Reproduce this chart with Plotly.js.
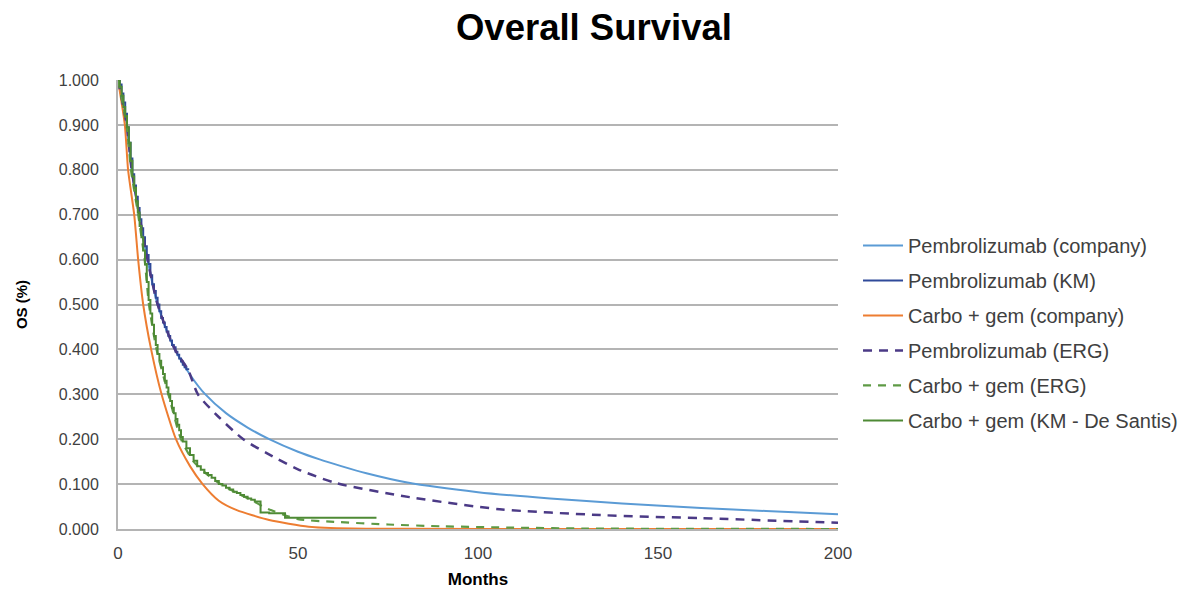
<!DOCTYPE html>
<html>
<head>
<meta charset="utf-8">
<script src="https://cdn.plot.ly/plotly-3.0.1.min.js"></script>
<style>html,body{margin:0;padding:0;background:#fff;}#chart{width:1195px;height:597px;}</style>
</head>
<body>
<div id="chart"></div>
<script>
// Pembrolizumab (company) - smooth fitted curve
const pembroCompanyT = [0, 2.4, 3.8, 5.9, 8.2, 11.0, 15.8, 20.5, 24, 30, 36, 42, 50, 56, 62, 69, 80, 100, 120, 140, 162, 180, 200];
const pembroCompanyS = [1.0, 0.9, 0.8, 0.7, 0.6, 0.5, 0.4, 0.338, 0.302, 0.258, 0.226, 0.200, 0.172, 0.155, 0.140, 0.124, 0.104, 0.082, 0.068, 0.057, 0.047, 0.040, 0.033];

// Pembrolizumab (KM) - step curve
const pembroKMT = [0, 0.5, 1, 1.5, 2, 2.5, 3, 3.5, 4, 4.5, 5, 5.5, 6, 6.5, 7, 7.5, 8, 8.5, 9, 9.5, 10, 10.5, 11, 11.5, 12, 12.5, 13, 13.5, 14, 14.5, 15, 15.5, 16, 16.5, 17, 17.5, 18, 18.5, 19, 19.5];
const pembroKMS = [1.0, 0.99, 0.97, 0.95, 0.925, 0.895, 0.86, 0.825, 0.79, 0.765, 0.74, 0.715, 0.69, 0.67, 0.65, 0.63, 0.61, 0.59, 0.565, 0.545, 0.53, 0.515, 0.50, 0.485, 0.47, 0.46, 0.45, 0.44, 0.43, 0.42, 0.41, 0.405, 0.395, 0.388, 0.38, 0.373, 0.366, 0.36, 0.356, 0.354];

// Carbo + gem (company)
const carboCompanyT = [0, 1.9, 2.8, 4.5, 5.6, 7.0, 9.2, 12.1, 16.1, 20, 23.5, 28, 33, 42, 53, 65, 80, 120, 200];
const carboCompanyS = [1.0, 0.9, 0.8, 0.7, 0.6, 0.5, 0.4, 0.3, 0.2, 0.14, 0.1, 0.063, 0.042, 0.02, 0.005, 0.001, 0.0005, 0.0, 0.0];

// Pembrolizumab (ERG)
const pembroErgT = [0, 2.4, 3.8, 5.9, 8.2, 11.0, 15.8, 19.5, 22.2, 27.9, 34.8, 41.3, 50, 60.7, 81, 106, 134, 162, 200];
const pembroErgS = [1.0, 0.9, 0.8, 0.7, 0.6, 0.5, 0.4, 0.354, 0.30, 0.25, 0.20, 0.169, 0.133, 0.102, 0.071, 0.044, 0.031, 0.024, 0.014];

// Carbo + gem (ERG)
const carboErgT = [0, 2.4, 3.6, 5.6, 7.4, 8.6, 10.7, 14, 17.5, 21, 25, 28.5, 33, 37, 41, 50, 60, 75, 90, 110, 130, 200];
const carboErgS = [1.0, 0.9, 0.8, 0.7, 0.6, 0.5, 0.4, 0.3, 0.2, 0.15, 0.12, 0.1, 0.08, 0.065, 0.047, 0.022, 0.016, 0.01, 0.006, 0.003, 0.001, 0.0];

// Carbo + gem (KM - De Santis) - step curve
const carboKMT = [0, 0.5, 1, 1.5, 2, 2.5, 3, 3.5, 4, 4.5, 5, 5.5, 6, 6.5, 7, 7.5, 8, 8.5, 9, 9.5, 10, 10.5, 11, 11.5, 12, 12.5, 13, 13.5, 14, 14.5, 15, 15.5, 16, 16.5, 17, 17.5, 18, 19, 20, 21, 22, 23, 24, 25, 26, 27, 28, 29, 30, 31, 32, 33, 34, 35, 36, 37, 38, 39.6, 42, 46.4, 71.8];
const carboKMS = [1.0, 0.985, 0.965, 0.94, 0.92, 0.895, 0.86, 0.82, 0.785, 0.76, 0.73, 0.705, 0.675, 0.65, 0.62, 0.59, 0.55, 0.51, 0.48, 0.455, 0.43, 0.41, 0.39, 0.375, 0.36, 0.345, 0.33, 0.315, 0.30, 0.285, 0.27, 0.258, 0.245, 0.232, 0.22, 0.205, 0.195, 0.18, 0.165, 0.152, 0.14, 0.132, 0.125, 0.12, 0.114, 0.107, 0.10, 0.097, 0.092, 0.088, 0.083, 0.08, 0.076, 0.072, 0.068, 0.065, 0.061, 0.037, 0.035, 0.025, 0.025];

const yTicks = [0, 0.1, 0.2, 0.3, 0.4, 0.5, 0.6, 0.7, 0.8, 0.9, 1.0];
const xTicks = [0, 50, 100, 150, 200];

const FONT = '"Liberation Sans", Arial, sans-serif';

const traces = [
  {x: pembroCompanyT, y: pembroCompanyS, name: 'Pembrolizumab (company)', mode: 'lines',
   line: {color: '#5B9BD5', width: 2, shape: 'spline', smoothing: 0.8}, legendgroup: 'a'},
  {x: pembroKMT, y: pembroKMS, name: 'Pembrolizumab (KM)', mode: 'lines',
   line: {color: '#2F4A9A', width: 2, shape: 'hv'}, legendgroup: 'b'},
  {x: carboCompanyT, y: carboCompanyS, name: 'Carbo + gem (company)', mode: 'lines',
   line: {color: '#ED7D31', width: 2, shape: 'spline', smoothing: 0.6}, legendgroup: 'c'},
  {x: pembroErgT, y: pembroErgS, name: 'Pembrolizumab (ERG)', mode: 'lines',
   line: {color: '#4B3A86', width: 2.5, dash: '9px,7px', shape: 'spline', smoothing: 0.7}, legendgroup: 'd'},
  {x: carboErgT, y: carboErgS, name: 'Carbo + gem (ERG)', mode: 'lines',
   line: {color: '#5E9A45', width: 2.2, dash: '8px,7px', shape: 'spline', smoothing: 0.6}, legendgroup: 'e'},
  {x: carboKMT, y: carboKMS, name: 'Carbo + gem (KM - De Santis)', mode: 'lines',
   line: {color: '#4E8A35', width: 2, shape: 'hv'}, legendgroup: 'f'}
];

const layout = {
  width: 1195, height: 597,
  margin: {l: 118, r: 357, t: 80, b: 68},
  paper_bgcolor: '#ffffff', plot_bgcolor: '#ffffff',
  font: {family: FONT, color: '#404040', size: 16},
  title: {text: '<b>Overall Survival</b>', x: 0.497, xanchor: 'center', y: 0.955, yanchor: 'middle',
          font: {family: FONT, size: 36.5, color: '#000000'}},
  xaxis: {
    range: [0, 200], tickvals: xTicks, ticktext: xTicks.map(String),
    showgrid: false, zeroline: false, showline: true, linecolor: '#B4B4B4', linewidth: 2,
    ticks: '', ticklabelstandoff: 8, tickfont: {size: 17, color: '#404040'},
    title: {text: '<b>Months</b>', font: {size: 17, color: '#000000'}, standoff: 11}
  },
  yaxis: {
    range: [0, 1.0], tickvals: yTicks, ticktext: yTicks.map(v => v.toFixed(3)),
    showgrid: true, gridcolor: '#B4B4B4', gridwidth: 2, zeroline: false,
    showline: true, linecolor: '#B4B4B4', linewidth: 2,
    ticks: '', ticklabelstandoff: 14, tickfont: {size: 16, color: '#404040'},
    title: {text: '<b>OS (%)</b>', font: {size: 15, color: '#000000'}, standoff: 28}
  },
  legend: {x: 1.0278, xanchor: 'left', y: 0.675, yanchor: 'top', traceorder: 'grouped',
           itemwidth: 40, font: {size: 20, color: '#404040'}, tracegroupgap: 6,
           bgcolor: 'rgba(0,0,0,0)'},
  showlegend: true
};

Plotly.newPlot('chart', traces, layout, {displayModeBar: false, staticPlot: true});
</script>
</body>
</html>
